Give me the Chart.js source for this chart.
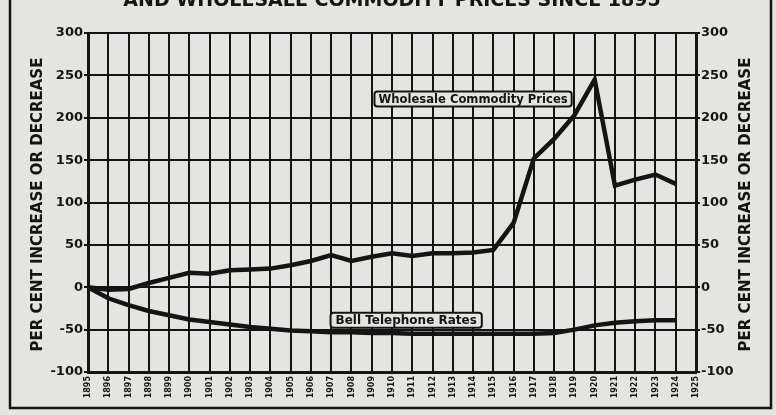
<!DOCTYPE html>
<html>
<head>
<meta charset="utf-8">
<script src="https://cdn.jsdelivr.net/npm/chart.js@4.4.1/dist/chart.umd.min.js"></script>
<style>
  html, body { margin: 0; padding: 0; background: #e4e4e2; }
  #wrap { width: 776px; height: 415px; }
</style>
</head>
<body>
<div id="wrap"><canvas id="rateChart" width="776" height="415"></canvas></div>
<script>
// Bell telephone rates vs wholesale commodity prices, per cent change since 1895

const years = ['1895', '1896', '1897', '1898', '1899', '1900', '1901', '1902', '1903', '1904',
  '1905', '1906', '1907', '1908', '1909', '1910', '1911', '1912', '1913', '1914',
  '1915', '1916', '1917', '1918', '1919', '1920', '1921', '1922', '1923', '1924', '1925'];

const wholesalePrices = [0, -3, -2, 5, 11, 17, 16, 20, 21, 22,
  26, 31, 38, 31, 36, 40, 37, 40, 40, 41,
  44, 76, 152, 175, 203, 245, 120, 127, 133, 122];

const bellRates = [0, -13, -21, -28, -33, -38, -41, -44, -47, -49,
  -51, -52, -53, -53, -54, -54, -55, -55, -55, -55,
  -55, -55, -55, -54, -50, -45, -42, -40, -39, -39];

const yTicks = [-100, -50, 0, 50, 100, 150, 200, 250, 300];

const titleText = 'AND WHOLESALE COMMODITY PRICES SINCE 1895';
const axisTitle = 'PER CENT INCREASE OR DECREASE';

// where the boxed series names sit (index along x, value on y)
const seriesTags = [
  { text: 'Wholesale Commodity Prices', at: 19.0, value: 222 },
  { text: 'Bell Telephone Rates', at: 15.7, value: -39 }
];

const paper = '#e4e4e2';
const ink = '#141414';
const boldFont = "'DejaVu Sans', sans-serif";

function roundRect(ctx, x, y, w, h, r) {
  ctx.beginPath();
  ctx.moveTo(x + r, y);
  ctx.lineTo(x + w - r, y);
  ctx.quadraticCurveTo(x + w, y, x + w, y + r);
  ctx.lineTo(x + w, y + h - r);
  ctx.quadraticCurveTo(x + w, y + h, x + w - r, y + h);
  ctx.lineTo(x + r, y + h);
  ctx.quadraticCurveTo(x, y + h, x, y + h - r);
  ctx.lineTo(x, y + r);
  ctx.quadraticCurveTo(x, y, x + r, y);
  ctx.closePath();
}

const newspaperPlugin = {
  id: 'newspaper',
  beforeDraw(chart) {
    const ctx = chart.ctx;
    ctx.save();
    ctx.fillStyle = paper;
    ctx.fillRect(0, 0, chart.width, chart.height);
    ctx.restore();
  },
  afterDraw(chart) {
    const ctx = chart.ctx;
    const area = chart.chartArea;
    ctx.save();

    // page frame
    ctx.strokeStyle = ink;
    ctx.lineWidth = 2.5;
    ctx.beginPath();
    ctx.moveTo(10, 0);
    ctx.lineTo(10, 408);
    ctx.lineTo(771, 408);
    ctx.lineTo(771, 0);
    ctx.stroke();

    // headline, cut off at the top like the clipping
    ctx.fillStyle = ink;
    ctx.font = 'bold 19px ' + boldFont;
    ctx.textAlign = 'center';
    ctx.textBaseline = 'middle';
    ctx.fillText(titleText, 392, 1, 545);

    // both axis titles read upward
    const midY = (area.top + area.bottom) / 2 + 2;
    ctx.font = 'bold 15px ' + boldFont;
    [38, 746].forEach(x => {
      ctx.save();
      ctx.translate(x, midY);
      ctx.rotate(-Math.PI / 2);
      ctx.fillText(axisTitle, 0, 0, 296);
      ctx.restore();
    });

    // boxed series names
    const xs = chart.scales.x;
    const ys = chart.scales.y;
    ctx.font = 'bold 12px ' + boldFont;
    seriesTags.forEach(tag => {
      const cx = xs.getPixelForValue(tag.at);
      const cy = ys.getPixelForValue(tag.value);
      const w = Math.min(ctx.measureText(tag.text).width, tag.text.length * 7.2) + 10;
      const h = 15;
      roundRect(ctx, cx - w / 2, cy - h / 2, w, h, 3);
      ctx.fillStyle = paper;
      ctx.fill();
      ctx.lineWidth = 2;
      ctx.strokeStyle = ink;
      ctx.stroke();
      ctx.fillStyle = ink;
      ctx.fillText(tag.text, cx, cy + 1, w - 8);
    });

    ctx.restore();
  }
};

const ctx = document.getElementById('rateChart').getContext('2d');

const rateChart = new Chart(ctx, {
  type: 'line',
  data: {
    labels: years,
    datasets: [
      {
        label: 'Wholesale Commodity Prices',
        data: wholesalePrices,
        borderColor: ink,
        borderWidth: 4.5,
        pointRadius: 0,
        tension: 0,
        yAxisID: 'y'
      },
      {
        label: 'Bell Telephone Rates',
        data: bellRates,
        borderColor: ink,
        borderWidth: 4.5,
        pointRadius: 0,
        tension: 0,
        yAxisID: 'y'
      }
    ]
  },
  options: {
    responsive: false,
    animation: false,
    layout: {
      padding: { left: 0, right: 0, top: 33, bottom: 0 }
    },
    plugins: {
      legend: { display: false },
      tooltip: { enabled: false }
    },
    scales: {
      x: {
        type: 'category',
        offset: false,
        afterFit(scale) { scale.height = 43; },
        grid: {
          color: ink,
          lineWidth: 2,
          drawTicks: false
        },
        border: { color: ink, width: 3 },
        ticks: {
          color: ink,
          autoSkip: false,
          minRotation: 90,
          maxRotation: 90,
          padding: 4,
          font: { family: boldFont, size: 8, weight: 'bold' }
        }
      },
      y: {
        position: 'left',
        min: -100,
        max: 300,
        afterFit(scale) { scale.width = 88; },
        afterBuildTicks(scale) { scale.ticks = yTicks.map(v => ({ value: v })); },
        grid: {
          color: ink,
          lineWidth: 2,
          tickLength: 4,
          tickColor: ink
        },
        border: { color: ink, width: 3 },
        ticks: {
          color: ink,
          padding: 1,
          font: { family: boldFont, size: 13, weight: 'bold' }
        }
      },
      y2: {
        position: 'right',
        min: -100,
        max: 300,
        afterFit(scale) { scale.width = 80; },
        afterBuildTicks(scale) { scale.ticks = yTicks.map(v => ({ value: v })); },
        grid: {
          drawOnChartArea: false,
          color: ink,
          lineWidth: 2,
          tickLength: 4,
          tickColor: ink
        },
        border: { color: ink, width: 3 },
        ticks: {
          color: ink,
          padding: 1,
          font: { family: boldFont, size: 13, weight: 'bold' }
        }
      }
    }
  },
  plugins: [newspaperPlugin]
});
</script>
</body>
</html>
